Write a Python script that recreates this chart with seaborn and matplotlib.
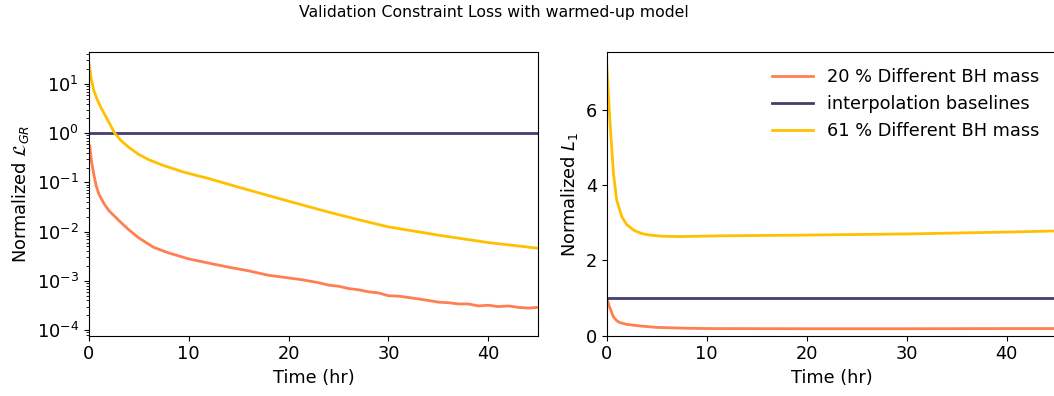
import pandas as pd
import matplotlib
matplotlib.use("Agg")
import matplotlib.pyplot as plt
import seaborn as sns

plt.rcParams['font.size'] = 12.8

# Series values
labels = ['20 % Different BH mass', 'interpolation baselines', '61 % Different BH mass']
colors = ['#ff7f50', '#483c6e', '#ffc000']

# left panel: normalized L_GR (log scale)
t_gr_20 = [0.1, 0.3, 0.5, 0.75, 1.0, 1.5, 2.0, 3.0, 4.0, 5.0, 6.5, 8, 10, 12, 14, 16, 18, 20,
           21, 22, 23, 24, 25, 26, 27, 28, 29, 30, 31, 32, 33, 34, 35, 36, 37, 38, 39, 40,
           41, 42, 43, 44, 45]
gr_20 = [0.55, 0.25, 0.15, 0.085, 0.059, 0.038, 0.027, 0.017, 0.011, 0.0075, 0.0048, 0.0037,
         0.0028, 0.0023, 0.0019, 0.0016, 0.0013, 0.00115,
         0.00108, 0.001, 0.00092, 0.00082, 0.00078, 0.0007, 0.00066, 0.0006, 0.00057, 0.0005,
         0.00049, 0.00046, 0.00043, 0.0004, 0.00037, 0.00036, 0.00034, 0.00034, 0.00031,
         0.00032, 0.0003, 0.00031, 0.00029, 0.00028, 0.00029]
t_gr_61 = [0, 0.25, 0.5, 0.85, 1.2, 1.6, 2.0, 2.6, 3.2, 4.0, 5.0, 6.0, 7.5, 9.6, 12, 15, 19.4,
           24, 27, 30, 35, 40, 45]
gr_61 = [28, 13, 7.5, 4.8, 3.4, 2.4, 1.7, 1.0, 0.72, 0.52, 0.37, 0.29, 0.22, 0.16, 0.12, 0.08,
         0.045, 0.025, 0.0175, 0.0125, 0.0085, 0.006, 0.0046]

# right panel: normalized L_1
t_l1_20 = [0, 0.3, 0.67, 1.0, 1.3, 2.0, 3.3, 5, 7.6, 10, 20, 30, 40, 45]
l1_20 = [1.0, 0.75, 0.50, 0.40, 0.35, 0.30, 0.26, 0.22, 0.20, 0.19, 0.185, 0.185, 0.19, 0.19]
t_l1_61 = [0, 0.3, 0.67, 1.0, 1.5, 2.0, 2.7, 3.5, 4.3, 5.5, 7.3, 11.3, 20, 30, 40, 45]
l1_61 = [7.22, 5.8, 4.31, 3.6, 3.16, 2.95, 2.80, 2.71, 2.67, 2.64, 2.63, 2.65, 2.67, 2.70,
         2.75, 2.78]

t_base = [0, 45]
base = [1, 1]
x_ticks = [0, 10, 20, 30, 40]

fig = plt.figure(figsize=(10.54, 3.96), dpi=100)
W, H = 1054, 396
ax1 = fig.add_axes([88.7 / W, (H - 335.7) / H, 449.6 / W, 283.4 / H])
ax2 = fig.add_axes([606.7 / W, (H - 335.7) / H, 450 / W, 283.4 / H])

# left panel
sns.lineplot(x=t_gr_20, y=gr_20, ax=ax1, color=colors[0], lw=2)
sns.lineplot(x=t_base, y=base, ax=ax1, color=colors[1], lw=2)
sns.lineplot(x=t_gr_61, y=gr_61, ax=ax1, color=colors[2], lw=2)
ax1.set_yscale('log')
ax1.set_ylim(7.7e-5, 44)
ax1.set_xlim(0, 45)
ax1.set_xticks(x_ticks)
ax1.set_xlabel('Time (hr)')
ax1.set_ylabel(r'Normalized $\mathcal{L}_{GR}$')

# right panel
sns.lineplot(x=t_l1_20, y=l1_20, ax=ax2, color=colors[0], lw=2, label=labels[0])
sns.lineplot(x=t_base, y=base, ax=ax2, color=colors[1], lw=2, label=labels[1])
sns.lineplot(x=t_l1_61, y=l1_61, ax=ax2, color=colors[2], lw=2, label=labels[2])
ax2.set_ylim(0, 7.52)
ax2.set_xlim(0, 45)
ax2.set_xticks(x_ticks)
ax2.set_yticks([0, 2, 4, 6])
ax2.set_xlabel('Time (hr)')
ax2.set_ylabel(r'Normalized $L_1$')
ax2.legend(loc='upper right', frameon=False, handlelength=2.3,
           bbox_to_anchor=(0.998, 1.0))

fig.text(493.5 / W, 1 - 12 / H, 'Validation Constraint Loss with warmed-up model',
         ha='center', va='center', fontsize=11.3)

fig.savefig('out.png', dpi=100)
